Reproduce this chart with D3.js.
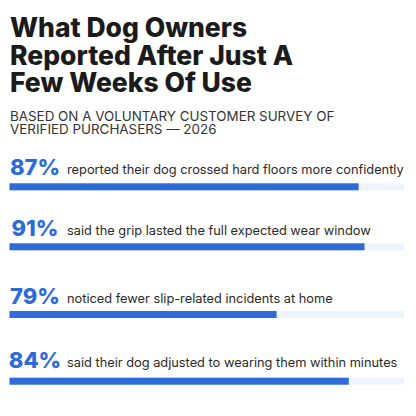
<!DOCTYPE html>
<html>
<head>
<meta charset="utf-8">
<script src="https://cdn.jsdelivr.net/npm/d3@7"></script>
<style>
  html, body { margin: 0; padding: 0; background: #fff; }
</style>
</head>
<body>
<svg id="drawing_region"></svg>
<script>
const titleLines = ["What Dog Owners", "Reported After Just A", "Few Weeks Of Use"];
const subtitleLines = ["BASED ON A VOLUNTARY CUSTOMER SURVEY OF", "VERIFIED PURCHASERS \u2014 2026"];
const percents = [87, 91, 79, 84];
const statements = [
    "reported their dog crossed hard floors more confidently",
    "said the grip lasted the full expected wear window",
    "noticed fewer slip-related incidents at home",
    "said their dog adjusted to wearing them within minutes"
];
// bar fill as drawn in the picture (does not follow the labels exactly)
const barFill = [88.5, 90, 67.7, 86];

const width = 416, height = 416;
const svg = d3.select('#drawing_region')
    .attr('width', width)
    .attr('height', height);

svg.selectAll('text.title')
    .data(titleLines)
    .enter()
    .append('text')
    .attr('class', 'title')
    .attr('x', 10)
    .attr('y', (d, i) => 37 + i * 27.5)
    .attr('fill', '#1b1b1b')
    .style('font-family', 'Inter, sans-serif')
    .style('font-weight', 800)
    .style('font-size', '26.5px')
    .text(d => d);

svg.selectAll('text.sub')
    .data(subtitleLines)
    .enter()
    .append('text')
    .attr('class', 'sub')
    .attr('x', 10)
    .attr('y', (d, i) => 121 + i * 12.5)
    .attr('fill', '#333')
    .style('font-family', 'Inter, sans-serif')
    .style('font-size', '13.4px')
    .text(d => d);

const x = d3.scaleLinear().domain([0, 100]).range([9.5, 404]);
const rowY = [175, 235.5, 304, 368];   // baselines of the big numbers
const barY = [183.3, 243.3, 311, 377.7];

const rows = svg.selectAll('g.row')
    .data(percents)
    .enter()
    .append('g')
    .attr('class', 'row');

rows.append('rect')
    .attr('x', x(0))
    .attr('y', (d, i) => barY[i])
    .attr('width', x(100) - x(0))
    .attr('height', 7)
    .attr('fill', '#eef4fd');

rows.append('rect')
    .attr('x', x(0))
    .attr('y', (d, i) => barY[i])
    .attr('width', (d, i) => x(barFill[i]) - x(0))
    .attr('height', 7)
    .attr('fill', '#2c6bd8');

rows.append('text')
    .attr('x', 35)
    .attr('y', (d, i) => rowY[i])
    .attr('text-anchor', 'middle')
    .attr('fill', '#2c6bd8')
    .style('font-family', 'Inter, sans-serif')
    .style('font-weight', 800)
    .style('font-size', '22px')
    .text(d => d + '%');

rows.append('text')
    .attr('x', 67)
    .attr('y', (d, i) => rowY[i] - 1)
    .attr('fill', '#2a2a2a')
    .style('font-family', 'Inter, sans-serif')
    .style('font-size', '12.8px')
    .text((d, i) => statements[i]);
</script>
</body>
</html>
